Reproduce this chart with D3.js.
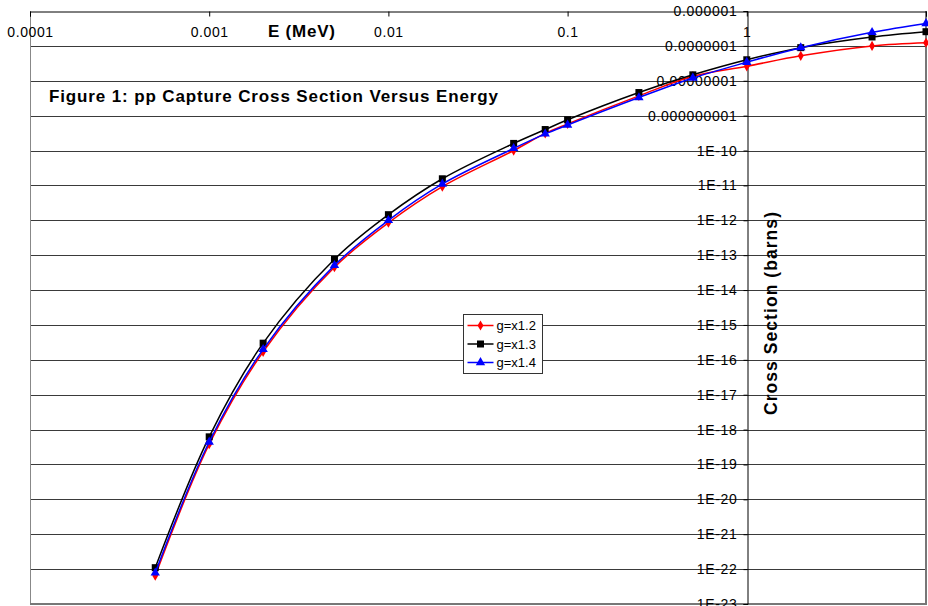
<!DOCTYPE html>
<html>
<head>
<meta charset="utf-8">
<script src="https://cdn.jsdelivr.net/npm/d3@7"></script>
<style>
  body { margin: 0; background: #fff; }
  svg { font-family: Arial, "Liberation Sans", sans-serif; }
</style>
</head>
<body>
<div id="vis"></div>
<script>
// energies in MeV
var energy = [0.0005, 0.001, 0.002, 0.005, 0.01, 0.02, 0.05, 0.075, 0.1, 0.25, 0.5, 1, 2, 5, 10];
// cross sections (barns)
var g12 = [6.5e-23, 3.8e-19, 1.7e-16, 4.5e-14, 8.5e-13, 9.2e-12, 1.0e-10, 3.1e-10, 5.8e-10, 3.7e-9, 1.35e-8, 2.6e-8, 5.2e-8, 1.0e-7, 1.23e-7];
var g13 = [1.1e-22, 6.2e-19, 3.0e-16, 7.6e-14, 1.45e-12, 1.55e-11, 1.6e-10, 4.0e-10, 7.6e-10, 4.6e-9, 1.48e-8, 4.0e-8, 8.9e-8, 1.8e-7, 2.55e-7];
var g14 = [7.8e-23, 4.4e-19, 2.0e-16, 5.1e-14, 1.0e-12, 1.1e-11, 1.15e-10, 3.0e-10, 5.4e-10, 3.3e-9, 1.2e-8, 3.4e-8, 8.9e-8, 2.45e-7, 4.4e-7];

var seriesNames = ['g=x1.2', 'g=x1.3', 'g=x1.4'];
var xTicks = [0.0001, 0.001, 0.01, 0.1, 1, 10];
var xTickLabels = ['0.0001', '0.001', '0.01', '0.1', '1', ''];
var yTicks = [1e-6, 1e-7, 1e-8, 1e-9, 1e-10, 1e-11, 1e-12, 1e-13, 1e-14, 1e-15, 1e-16, 1e-17, 1e-18, 1e-19, 1e-20, 1e-21, 1e-22, 1e-23];
var yTickLabels = ['0.000001', '0.0000001', '0.00000001', '0.000000001', '1E-10', '1E-11', '1E-12', '1E-13', '1E-14', '1E-15',
  '1E-16', '1E-17', '1E-18', '1E-19', '1E-20', '1E-21', '1E-22', '1E-23'];

var W = 928, H = 606;
var plot = {left: 30, right: 926, top: 11, bottom: 604};

var svg = d3.select('#vis').append('svg')
    .attr('width', W)
    .attr('height', H);

var x = d3.scaleLog().domain([1e-4, 10]).range([plot.left, plot.right]);
var y = d3.scaleLog().domain([1e-23, 1e-6]).range([plot.bottom, plot.top]);

// gridlines
svg.append('g')
    .selectAll('line')
    .data(yTicks.slice(1, -1))
    .enter()
    .append('line')
        .attr('x1', plot.left)
        .attr('x2', plot.right)
        .attr('y1', d => Math.round(y(d)) + 0.5)
        .attr('y2', d => Math.round(y(d)) + 0.5)
        .attr('stroke', '#3a3a3a')
        .attr('stroke-width', 1);

// plot frame
svg.append('line')
    .attr('x1', plot.left + 0.5).attr('x2', plot.left + 0.5)
    .attr('y1', plot.top).attr('y2', plot.bottom)
    .attr('stroke', '#888');
svg.append('line')
    .attr('x1', plot.right).attr('x2', plot.right)
    .attr('y1', plot.top).attr('y2', plot.bottom + 1)
    .attr('stroke', '#777').attr('stroke-width', 2);
svg.append('line')
    .attr('x1', plot.left).attr('x2', plot.right + 1)
    .attr('y1', plot.bottom).attr('y2', plot.bottom)
    .attr('stroke', '#777').attr('stroke-width', 2);

// x axis along the top edge, ticks pointing into the plot
var xAxis = svg.append('g')
    .attr('transform', 'translate(0,' + (plot.top + 0.5) + ')')
    .call(d3.axisBottom(x).tickValues(xTicks).tickSize(5).tickPadding(11)
        .tickFormat((d, i) => xTickLabels[i]));
xAxis.select('.domain').attr('stroke', '#000');
xAxis.selectAll('text')
    .attr('font-size', 14).attr('letter-spacing', 0.6)
    .attr('fill', '#000').attr('font-family', 'Arial, "Liberation Sans", sans-serif');

// y axis crossing at E = 1
var yAxis = svg.append('g')
    .attr('transform', 'translate(' + (Math.round(x(1)) + 0.5) + ',0)')
    .call(d3.axisLeft(y).tickValues(yTicks).tickSize(4).tickPadding(6)
        .tickFormat((d, i) => yTickLabels[i]));
yAxis.select('.domain').attr('stroke', '#000');
yAxis.selectAll('text')
    .attr('font-size', 14).attr('letter-spacing', 0.7)
    .attr('fill', '#000').attr('font-family', 'Arial, "Liberation Sans", sans-serif');

// titles
svg.append('text')
    .attr('x', 268).attr('y', 37)
    .attr('font-size', 17).attr('font-weight', 'bold')
    .attr('textLength', 67).attr('lengthAdjust', 'spacing')
    .text('E (MeV)');

svg.append('text')
    .attr('x', 49).attr('y', 102)
    .attr('font-size', 17).attr('font-weight', 'bold')
    .attr('textLength', 449).attr('lengthAdjust', 'spacing')
    .text('Figure 1: pp Capture Cross Section Versus Energy');

svg.append('text')
    .attr('transform', 'translate(777,415) rotate(-90)')
    .attr('font-size', 17.5).attr('font-weight', 'bold')
    .attr('textLength', 203).attr('lengthAdjust', 'spacing')
    .text('Cross Section (barns)');

// series
var series = [
    {name: seriesNames[0], values: g12, color: '#ff0000', symbol: d3.symbolDiamond, size: 30},
    {name: seriesNames[1], values: g13, color: '#000000', symbol: d3.symbolSquare, size: 49},
    {name: seriesNames[2], values: g14, color: '#0000ff', symbol: d3.symbolTriangle, size: 38}
];

var line = d3.line()
    .x(d => x(d[0]))
    .y(d => y(d[1]))
    .curve(d3.curveCatmullRom.alpha(0.5));

series.forEach(s => {
    var pts = energy.map((e, i) => [e, s.values[i]]);
    var g = svg.append('g');
    g.append('path')
        .datum(pts)
        .attr('d', line)
        .attr('fill', 'none')
        .attr('stroke', s.color)
        .attr('stroke-width', 1.5);
    g.selectAll('path.m')
        .data(pts)
        .enter()
        .append('path')
            .attr('class', 'm')
            .attr('transform', d => 'translate(' + x(d[0]) + ',' + y(d[1]) + ')')
            .attr('d', d3.symbol().type(s.symbol).size(s.size))
            .attr('fill', s.color);
});

// legend
var legend = svg.append('g').attr('transform', 'translate(463.5,314.5)');
legend.append('rect')
    .attr('width', 79).attr('height', 59)
    .attr('fill', '#fff').attr('stroke', '#333');
series.forEach((s, i) => {
    var ly = 11 + i * 18.5;
    legend.append('line')
        .attr('x1', 4).attr('x2', 30)
        .attr('y1', ly).attr('y2', ly)
        .attr('stroke', s.color).attr('stroke-width', 1.5);
    legend.append('path')
        .attr('transform', 'translate(17,' + ly + ')')
        .attr('d', d3.symbol().type(s.symbol).size(s.size))
        .attr('fill', s.color);
    legend.append('text')
        .attr('x', 33).attr('y', ly)
        .attr('dy', '0.35em')
        .attr('font-size', 13)
        .text(s.name);
});
</script>
</body>
</html>
